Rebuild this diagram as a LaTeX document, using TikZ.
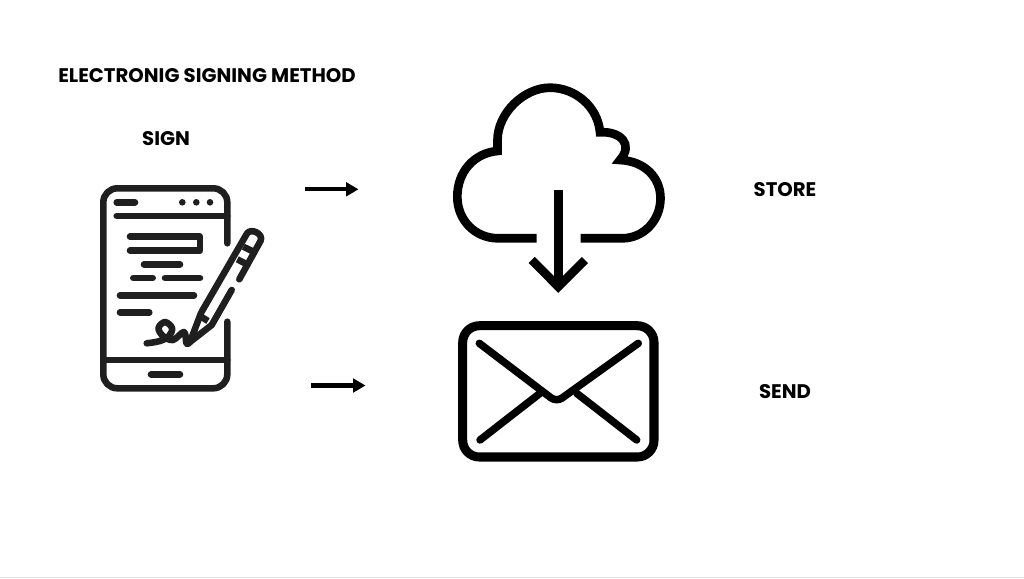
\documentclass[tikz,border=0pt]{standalone}
\usepackage{fontspec}
\setmainfont{Poppins}
\usetikzlibrary{arrows.meta}
\tikzset{
    label/.style={font=\fontsize{16.8}{20}\selectfont\bfseries, inner sep=0pt},
    icon/.style={line width=5.6pt, line cap=round, line join=round, color=black!88},
    heavy/.style={line width=7.4pt, line join=miter},
    flow/.style={line width=3.6pt, -{Triangle[length=10.5pt,width=11.5pt]}}
}
\begin{document}
\begin{tikzpicture}[x=0.03cm,y=-0.03cm]
    \useasboundingbox (0,0) rectangle (1024,578);
    \fill[black!12] (0,576.6) rectangle (1024,578);

    % Labels
    \node[label] (title) at (207,76) {ELECTRONIG SIGNING METHOD};
    \node[label] (sign) at (166,139) {SIGN};
    \node[label] (store) at (785,190) {STORE};
    \node[label] (send) at (785,392) {SEND};

    % Arrows
    \coordinate (storefrom) at (305,189.3);
    \coordinate (storeto) at (358.5,189.3);
    \coordinate (sendfrom) at (311,385.5);
    \coordinate (sendto) at (365.5,385.5);
    \draw[flow] (storefrom) -- (storeto);
    \draw[flow] (sendfrom) -- (sendto);

    % Phone
    \draw[icon, rounded corners=0.42cm] (227.3,243.3) -- (227.3,188.3) -- (103.3,188.3)
        -- (103.3,388.3) -- (227.3,388.3) -- (227.3,321.7);
    \draw[icon] (116.7,216) -- (227.3,216);
    \draw[icon] (103.3,360) -- (227.3,360);
    \draw[icon] (116.7,202.3) -- (135,202.3);
    \draw[icon] (151,374.3) -- (180,374.3);
    \foreach \x in {182.3,196.3,210} {
        \fill[black!88] (\x,202.3) circle (3.3);
    }

    % Written lines
    \draw[icon] (130,236.7) -- (200,236.7) -- (200,250.7) -- (130,250.7);
    \foreach \xa/\xb/\y in {144/180/264.3, 133.3/152.7/278, 165/200/278, 120/194/295.3, 120/149.3/312.3} {
        \draw[icon] (\xa,\y) -- (\xb,\y);
    }

    % Pen
    \draw[icon] (201.7,311.7) -- (247,233.5) .. controls (251,227.5) and (264,234) .. (260.5,241) -- (239.3,279.3);
    \draw[icon] (231.7,290) -- (211.7,325) -- (190,342) -- (201,313);
    \draw[icon, line cap=butt] (243.3,246.7) -- (254,252);
    \draw[icon, line cap=butt] (237.3,259.3) -- (248.3,265);
    \draw[icon, line cap=butt] (200,316) -- (208,321);

    % Signature
    \draw[icon] plot[smooth, tension=0.6] coordinates {(146.7,343.3) (160,341) (169,336) (172,328) (165,322) (158.5,328) (163,336) (173,340) (184,332) (186.5,343.5) (190,342)};

    % Cloud
    \draw[heavy] (580.7,238.3) -- (622,238.3) .. controls (644,238.3) and (660.5,220) .. (660.5,198.3)
        .. controls (660.5,177) and (644,161) .. (620,160) .. controls (634,144) and (620,131) .. (600,132.3)
        .. controls (597.9,107) and (575.6,87.7) .. (550,87.7) .. controls (524,87.7) and (497.7,113) .. (497.5,140) -- (497.5,151)
        .. controls (474,153) and (457.3,172) .. (457.3,196.7) .. controls (457.3,220) and (475,238.3) .. (498.3,238.3) -- (536.7,238.3);
    \draw[heavy] (558.3,190) -- (558.3,284);
    \draw[heavy] (531.7,260) -- (558.3,286.7) -- (585,260);

    % Envelope
    \draw[line width=7.7pt, rounded corners=0.5cm] (462.7,325.7) rectangle (654,457);
    \draw[line width=6.4pt, line cap=round, line join=round, rounded corners=0.2cm] (479.3,343.3) -- (556.5,402) -- (638.3,343.3);
    \draw[line width=6.4pt, line cap=round] (480,440) -- (540,393.3);
    \draw[line width=6.4pt, line cap=round] (636.7,440) -- (576.7,393.3);
\end{tikzpicture}
\end{document}
